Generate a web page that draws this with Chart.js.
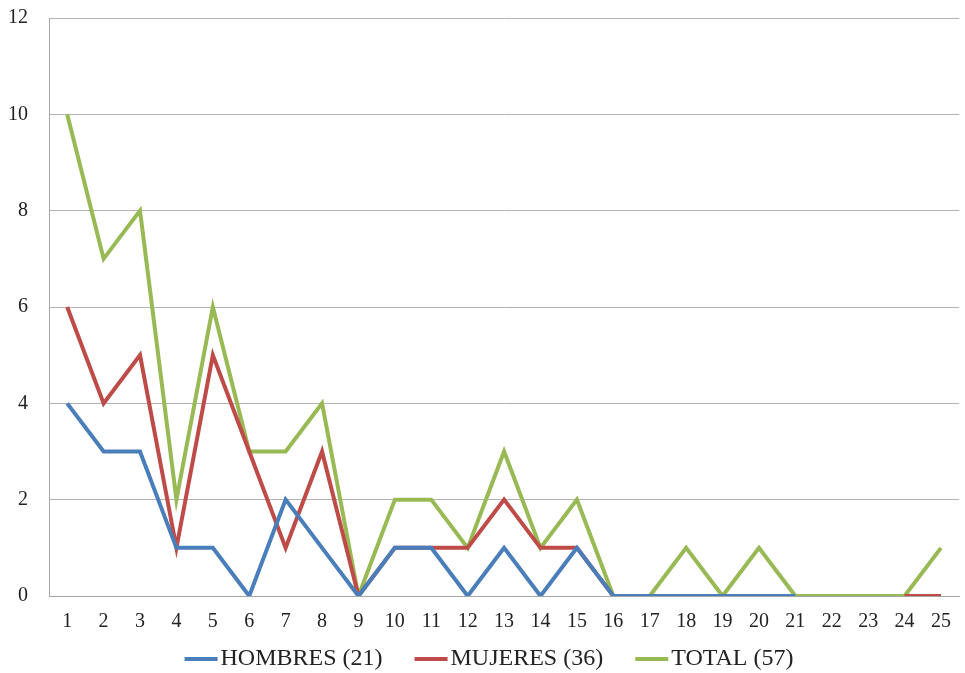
<!DOCTYPE html>
<html>
<head>
<meta charset="utf-8">
<script src="https://cdn.jsdelivr.net/npm/chart.js@4/dist/chart.umd.min.js"></script>
<style>
  html, body { margin: 0; padding: 0; background: #fff; }
  #wrap { width: 965px; height: 673px; }
</style>
</head>
<body>
<div id="wrap"><canvas id="c" width="965" height="673"></canvas></div>
<script>
const categories = ['1','2','3','4','5','6','7','8','9','10','11','12','13','14','15','16','17','18','19','20','21','22','23','24','25'];
const hombres = [4,3,3,1,1,0,2,1,0,1,1,0,1,0,1,0,0,0,0,0,0,null,null,null,null];
const mujeres = [6,4,5,1,5,3,1,3,0,1,1,1,2,1,1,0,0,0,0,null,null,null,null,0,0];
const total   = [10,7,8,2,6,3,3,4,0,2,2,1,3,1,2,0,0,1,0,1,0,0,0,0,1];
const seriesNames = ['HOMBRES (21)', 'MUJERES (36)', 'TOTAL (57)'];
const yTicks = [0,2,4,6,8,10,12];

const fontFamily = "'Liberation Serif', 'DejaVu Serif', serif";

// Legend swatch: a short thick line that sits close to its label.
function legendSwatch(color) {
  const c = document.createElement('canvas');
  c.width = 44; c.height = 4;
  const g = c.getContext('2d');
  g.fillStyle = color;
  g.fillRect(9, 0, 33, 4);
  return c;
}

function line(label, data, color) {
  return {
    label, data,
    borderColor: color, backgroundColor: color,
    borderWidth: 4, pointRadius: 0, pointHoverRadius: 0,
    pointStyle: legendSwatch(color),
    tension: 0, spanGaps: false, borderJoinStyle: 'miter'
  };
}

// Keep the wide horizontal spacing between legend items while
// giving the legend a shorter box so the plot can use more height.
const LEGEND_TRIM = 43;
const LEGEND_SHIFT_X = 8;
const LEGEND_SHIFT_Y = -35;
const compactLegend = {
  id: 'compactLegend',
  beforeLayout(chart) {
    const lg = chart.legend;
    if (!lg || lg._compact) return;
    lg._compact = true;
    const fit = lg.fit;
    lg.fit = function () { fit.call(this); this.height -= LEGEND_TRIM; };
    lg.draw = function () {
      if (!this.options.display) return;
      const ctx = this.ctx;
      ctx.save();
      ctx.translate(LEGEND_SHIFT_X, LEGEND_SHIFT_Y);
      this._draw();
      ctx.restore();
    };
  }
};

new Chart(document.getElementById('c'), {
  type: 'line',
  data: {
    labels: categories,
    datasets: [
      line(seriesNames[0], hombres, '#4A7EBB'),
      line(seriesNames[1], mujeres, '#BE4B48'),
      line(seriesNames[2], total, '#98B954')
    ]
  },
  plugins: [compactLegend],
  options: {
    responsive: false,
    animation: false,
    layout: { padding: { left: 0, right: 1, top: 0, bottom: 0 } },
    plugins: {
      tooltip: { enabled: false },
      legend: {
        position: 'bottom',
        labels: {
          usePointStyle: true,
          pointStyleWidth: 22,
          boxHeight: 4,
          padding: 34,
          color: '#222',
          font: { family: fontFamily, size: 24 }
        }
      }
    },
    scales: {
      x: {
        offset: true,
        grid: { display: false, drawTicks: false },
        border: { display: true, color: '#a6a6a6', width: 1 },
        ticks: {
          color: '#222', padding: 14, maxRotation: 0, autoSkip: false,
          font: { family: fontFamily, size: 20 }
        }
      },
      y: {
        min: 0, max: 12,
        afterBuildTicks: (scale) => { scale.ticks = yTicks.map(v => ({ value: v })); },
        afterFit: (scale) => {
          scale.width = 49;
          scale.paddingTop = 18;
          scale.paddingBottom = 10;
        },
        grid: { color: '#b3b3b3', lineWidth: 1, drawTicks: false },
        border: { display: true, color: '#a6a6a6', width: 1 },
        ticks: {
          color: '#222', padding: 21,
          font: { family: fontFamily, size: 20 }
        }
      }
    }
  }
});
</script>
</body>
</html>
